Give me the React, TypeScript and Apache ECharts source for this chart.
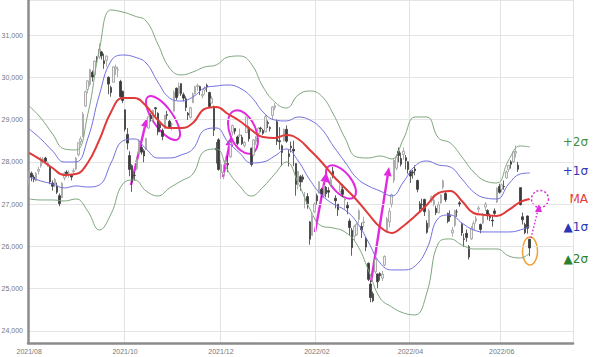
import React, { useEffect, useRef } from "react";
import * as echarts from "echarts";

// Tokyo market closures (weekdays) in the span of the chart
const holidays = [
  "2021-08-09", "2021-09-20", "2021-09-23", "2021-11-03", "2021-11-23", "2021-12-31",
  "2022-01-03", "2022-01-10", "2022-02-11", "2022-02-23", "2022-03-21", "2022-04-29",
  "2022-05-03", "2022-05-04", "2022-05-05", "2022-07-18",
];
const categoryCount = 233;

// daily candles: [open, close, low, high]
const candles: number[][] = [
  // 2021/08
  [27450, 27781, 27440, 27810], [27730, 27641, 27540, 27770], [27640, 27584, 27520, 27690], [27560, 27728, 27530, 27760],
  [27780, 27820, 27700, 27880], [27900, 28070, 27860, 28120], [28040, 28070, 27960, 28120], [28090, 28015, 27950, 28120],
  [27900, 27977, 27880, 28010], [27880, 27523, 27470, 27890], [27500, 27424, 27320, 27560], [27480, 27585, 27400, 27620],
  [27430, 27281, 27240, 27510], [27200, 27013, 26950, 27250], [27150, 27494, 27140, 27520], [27620, 27732, 27560, 27770],
  [27760, 27724, 27650, 27800], [27740, 27742, 27620, 27800], [27700, 27641, 27560, 27720], [27770, 27789, 27700, 27850],
  [27830, 28089, 27800, 28110],
  // 2021/09
  [28170, 28451, 28130, 28470], [28480, 28543, 28400, 28600], [28600, 29128, 28580, 29180], [29320, 29660, 29300, 29690],
  [29710, 29916, 29620, 29930], [29830, 30181, 29780, 30200], [30120, 30008, 29900, 30160], [30060, 30381, 30040, 30400],
  [30460, 30447, 30340, 30500], [30480, 30670, 30430, 30800], [30600, 30511, 30420, 30620], [30390, 30323, 30200, 30560],
  [30400, 30500, 30250, 30520], [30000, 29839, 29600, 30020], [29760, 29639, 29540, 29800], [29880, 30248, 29880, 30250],
  [30200, 30240, 30050, 30300], [30170, 30183, 30000, 30250], [29900, 29544, 29500, 29940], [29670, 29452, 29390, 29680],
  // 2021/10
  [29230, 28771, 28720, 29240], [28650, 28444, 28290, 28800], [28150, 27822, 27660, 28250], [27910, 27528, 27290, 27940],
  [27680, 27678, 27560, 27760], [27840, 28048, 27800, 28120], [28200, 28498, 28170, 28530], [28340, 28230, 28170, 28400],
  [28260, 28140, 27990, 28300], [28300, 28550, 28280, 28570], [28800, 29068, 28780, 29070], [29100, 29025, 28950, 29150],
  [29000, 29215, 28950, 29240], [29280, 29255, 29080, 29300], [29150, 28708, 28630, 29170], [28890, 28804, 28700, 28920],
  [28740, 28600, 28510, 28790], [28790, 29106, 28780, 29110], [29120, 29098, 29000, 29210], [28960, 28820, 28780, 28990],
  [28880, 28892, 28740, 28930],
  // 2021/11
  [29200, 29647, 29190, 29690], [29740, 29520, 29460, 29760], [29620, 29794, 29560, 29880], [29850, 29611, 29560, 29860],
  [29590, 29507, 29430, 29640], [29490, 29285, 29200, 29550], [29150, 29106, 28990, 29180], [29050, 29278, 29020, 29310],
  [29400, 29610, 29390, 29640], [29610, 29776, 29600, 29800], [29780, 29808, 29680, 29850], [29780, 29688, 29580, 29800],
  [29560, 29598, 29500, 29690], [29700, 29745, 29590, 29790], [29810, 29774, 29650, 29850], [29640, 29302, 29270, 29660],
  [29390, 29499, 29380, 29560], [29300, 28751, 28610, 29330], [28320, 28283, 27960, 28470], [28520, 27821, 27790, 28560],
  // 2021/12
  [27750, 27935, 27600, 28050], [27700, 27753, 27590, 27940], [28000, 28029, 27870, 28130], [27960, 27927, 27760, 28150],
  [28120, 28455, 28090, 28470], [28700, 28860, 28620, 28880], [28790, 28725, 28650, 28800], [28590, 28437, 28390, 28620],
  [28620, 28640, 28580, 28790], [28580, 28432, 28400, 28640], [28380, 28459, 28340, 28490], [28690, 29066, 28680, 29070],
  [28810, 28545, 28480, 28850], [28320, 27937, 27890, 28340], [28160, 28517, 28130, 28540], [28480, 28562, 28400, 28610],
  [28670, 28798, 28640, 28820], [28800, 28782, 28700, 28830], [28740, 28676, 28640, 28780], [28710, 29069, 28700, 29120],
  [28930, 28906, 28800, 28980], [28810, 28791, 28720, 28840],
  // 2022/01
  [29100, 29301, 29000, 29320], [29290, 29332, 29220, 29390], [28950, 28487, 28400, 29000], [28500, 28478, 28290, 28820],
  [28380, 28222, 27900, 28410], [28500, 28765, 28480, 28790], [28770, 28489, 28450, 28860], [28190, 28124, 27890, 28290],
  [28370, 28333, 28220, 28480], [28300, 28257, 27900, 28500], [27960, 27467, 27200, 27970], [27530, 27772, 27350, 27790],
  [27650, 27522, 27320, 27690], [27640, 27588, 27520, 27700], [27100, 27131, 26900, 27290], [27180, 27011, 26890, 27260],
  [26580, 26170, 26040, 26600], [26260, 26717, 26260, 26800], [26820, 27001, 26790, 27040],
  // 2022/02
  [27200, 27078, 26990, 27250], [27270, 27533, 27250, 27540], [27350, 27241, 27150, 27390], [27190, 27439, 27150, 27440],
  [27400, 27248, 27160, 27430], [27320, 27284, 27150, 27400], [27450, 27579, 27420, 27640], [27780, 27696, 27610, 27880],
  [27140, 27079, 26900, 27210], [27000, 26865, 26720, 27000], [27300, 27460, 27250, 27500], [27340, 27232, 27170, 27470],
  [27100, 27122, 26870, 27160], [26970, 26910, 26760, 27050], [26600, 26449, 26260, 26660], [26380, 25970, 25780, 26440],
  [26240, 26476, 26130, 26510], [26280, 26526, 26250, 26560],
  // 2022/03
  [26640, 26844, 26550, 26880], [26470, 26393, 26200, 26560], [26560, 26577, 26460, 26700], [26190, 25985, 25890, 26230],
  [25600, 25221, 25180, 25620], [25110, 24790, 24680, 25190], [24880, 24717, 24680, 24930], [25400, 25690, 25350, 25800],
  [25350, 25162, 25010, 25360], [25360, 25307, 25190, 25390], [25250, 25346, 25180, 25420], [25560, 25762, 25530, 25790],
  [26380, 26652, 26370, 26700], [26580, 26827, 26450, 26910], [27000, 27224, 26920, 27250], [27560, 28040, 27500, 28060],
  [27850, 28110, 27800, 28180], [28250, 28149, 27990, 28340], [28080, 27943, 27890, 28220], [28170, 28252, 28050, 28340],
  [28100, 28027, 27820, 28160], [28000, 27821, 27720, 28010],
  // 2022/04
  [27770, 27665, 27500, 27810], [27760, 27736, 27600, 27810], [27830, 27787, 27680, 27920], [27560, 27350, 27280, 27580],
  [27010, 26888, 26840, 27070], [26990, 26985, 26870, 27130], [27110, 26821, 26720, 27130], [26550, 26334, 26300, 26620],
  [26460, 26843, 26420, 26890], [27080, 27172, 27030, 27200], [27000, 27093, 26950, 27140], [26900, 26799, 26740, 26960],
  [26800, 26985, 26780, 27060], [27030, 27217, 27010, 27230], [27400, 27553, 27350, 27580], [27250, 27105, 27050, 27300],
  [26780, 26590, 26550, 26800], [26730, 26700, 26590, 26850], [26320, 26386, 26230, 26460], [26500, 26847, 26460, 26870],
  // 2022/05
  [26820, 26818, 26700, 26880], [27030, 27003, 26940, 27070], [26520, 26319, 26250, 26550], [26180, 26167, 25990, 26300],
  [26310, 26213, 26110, 26400], [25990, 25748, 25690, 26030], [26180, 26427, 26150, 26480], [26400, 26547, 26390, 26610],
  [26600, 26659, 26540, 26720], [26880, 26911, 26800, 26960], [26520, 26402, 26310, 26540], [26550, 26739, 26530, 26790],
  [26930, 27001, 26840, 27050], [26850, 26748, 26630, 26880], [26720, 26677, 26600, 26780], [26620, 26604, 26470, 26710],
  [26840, 26781, 26720, 26900], [27050, 27369, 27030, 27400], [27420, 27279, 27250, 27480],
  // 2022/06
  [27350, 27457, 27280, 27490], [27420, 27413, 27340, 27560], [27620, 27761, 27600, 27800], [27820, 27915, 27760, 27930],
  [28000, 27943, 27840, 28040], [28000, 28234, 27980, 28250], [28210, 28246, 28100, 28390], [27920, 27824, 27760, 28000],
  [27390, 26987, 26970, 27400], [26700, 26629, 26520, 26800], [26520, 26326, 26290, 26560], [26720, 26431, 26300, 26730],
  [26170, 25963, 25770, 26180],
];

// Bollinger band readings at these trading-day positions
const bandIndex = [
  0, 5, 10, 15, 20, 25, 30, 35, 40, 45, 50, 55, 60, 65, 70, 75, 80, 85, 90, 95, 100, 105,
  110, 115, 120, 125, 130, 135, 140, 145, 150, 155, 160, 165, 170, 175, 180, 185, 190, 195, 200, 205, 210, 214,
];
const maValues = [
  28210, 28045, 27855, 27690, 27714, 27974, 28518, 29180, 29511, 29511, 29322, 28990, 28801, 28801, 28920, 29251,
  29298, 29132, 28967, 28754, 28588, 28565, 28636, 28541, 28281, 27997, 27666, 27383, 27099, 26768, 26460, 26318,
  26484, 26720, 26981, 27264, 27312, 27075, 26791, 26744, 26720, 26862, 27052, 27122,
];
const plus1Values = [
  28778, 28541, 28257, 27997, 27997, 28541, 29582, 30386, 30527, 30480, 30338, 29889, 29511, 29440, 29534, 29747,
  29794, 29818, 29747, 29534, 29180, 28990, 28967, 29061, 28990, 28778, 28376, 27997, 27619, 27430, 27312, 27193,
  27524, 27903, 28021, 27926, 27879, 27595, 27288, 27146, 27122, 27477, 27714, 27737,
];
const minus1Values = [
  27643, 27548, 27477, 27383, 27430, 27406, 27453, 27974, 28494, 28541, 28305, 28092, 28092, 28163, 28305, 28754,
  28801, 28470, 28210, 27974, 27997, 28139, 28305, 28021, 27572, 27217, 27004, 26862, 26579, 26106, 25609, 25444,
  25444, 25538, 25940, 26673, 26744, 26555, 26389, 26342, 26342, 26342, 26389, 26484,
];
const plus2Values = [
  29322, 29038, 28659, 28305, 28281, 29109, 30646, 31592, 31544, 31450, 31331, 30788, 30220, 30055, 30125, 30244,
  30291, 30480, 30504, 30315, 29771, 29416, 29274, 29582, 29676, 29558, 29132, 28565, 28116, 28092, 28139, 28068,
  28541, 29061, 29061, 28565, 28447, 28116, 27761, 27548, 27501, 28045, 28376, 28352,
];
const minus2Values = [
  27122, 27099, 27099, 27075, 27122, 26839, 26389, 26768, 27477, 27572, 27312, 27193, 27383, 27548, 27714, 28257,
  28305, 27785, 27430, 27193, 27406, 27714, 27997, 27501, 26886, 26484, 26437, 26342, 26058, 25444, 24781, 24569,
  24427, 24380, 24900, 26082, 26177, 26035, 25940, 25940, 25940, 25775, 25727, 25846,
];

const yMin = 23716;
const yMax = 31828;

const sideLabels = [
  { text: "+2σ", color: "#3f8f3f", y: 142 },
  { text: "+1σ", color: "#3434b4", y: 171 },
  { text: "MA", color: "#e23a3a", y: 199 },
  { text: "▲1σ", color: "#2a35b8", y: 227 },
  { text: "▲2σ", color: "#2c7f2c", y: 259 },
];

const MAG = "#e12ae0";

function buildDates(): string[] {
  const out: string[] = [];
  const d = new Date(Date.UTC(2021, 7, 2));
  while (out.length < categoryCount) {
    const dow = d.getUTCDay();
    const s = d.toISOString().slice(0, 10);
    if (dow !== 0 && dow !== 6 && holidays.indexOf(s) < 0) out.push(s);
    d.setUTCDate(d.getUTCDate() + 1);
  }
  return out;
}

function arrow(x1: number, y1: number, x2: number, y2: number) {
  const dx = x2 - x1, dy = y2 - y1;
  const len = Math.hypot(dx, dy);
  const ux = dx / len, uy = dy / len;
  const hl = 9, hw = 4;
  const bx = x2 - ux * hl, by = y2 - uy * hl;
  return [
    { type: "line", shape: { x1, y1, x2: bx, y2: by }, style: { stroke: MAG, lineWidth: 2.4 } },
    {
      type: "polygon",
      shape: { points: [[x2, y2], [bx - uy * hw, by + ux * hw], [bx + uy * hw, by - ux * hw]] },
      style: { fill: MAG },
    },
  ];
}

function ellipse(cx: number, cy: number, rx: number, ry: number, rot: number, color: string, w: number) {
  return {
    type: "ellipse",
    x: cx,
    y: cy,
    rotation: rot,
    shape: { cx: 0, cy: 0, rx, ry },
    style: { fill: "none", stroke: color, lineWidth: w },
  };
}

export default function App() {
  const ref = useRef<HTMLDivElement>(null);
  useEffect(() => {
    if (!ref.current) return;
    document.body.style.margin = "0";
    const chart = echarts.init(ref.current, null, { renderer: "svg" });
    const dates = buildDates();
    const isMonthStart = (i: number) => i === 0 || dates[i].slice(5, 7) !== dates[i - 1].slice(5, 7);
    const isMark = (i: number) => isMonthStart(i) && Number(dates[i].slice(5, 7)) % 2 === 0;
    const band = (vals: number[]) => bandIndex.map((i, k) => [i, vals[k]]);
    const lineSeries = (name: string, vals: number[], color: string, width: number) => ({
      name,
      type: "line",
      data: band(vals),
      smooth: 0.45,
      symbol: "none",
      silent: true,
      lineStyle: { color, width },
      z: 3,
    });

    const graphics: any[] = [
      ...arrow(131, 185, 147, 118),
      ...arrow(223, 177, 231, 137),
      ...arrow(315, 232, 326, 173),
      ...arrow(371, 282, 389, 167),
      ellipse(163, 118, 26, 10, -0.96, MAG, 2),
      ellipse(243, 132, 23, 13, -1.17, MAG, 2),
      ellipse(341, 182, 20, 10, -0.87, MAG, 2),
      ellipse(530, 251, 7.5, 14, 0, "#f0a035", 1.5),
      {
        type: "circle",
        shape: { cx: 540, cy: 199, r: 8.5 },
        style: { fill: "none", stroke: MAG, lineWidth: 1.5, lineDash: [2, 2] },
      },
      {
        type: "line",
        shape: { x1: 531, y1: 238, x2: 537.5, y2: 212 },
        style: { stroke: MAG, lineWidth: 1.5, lineDash: [1.5, 2] },
      },
      {
        type: "polygon",
        shape: { points: [[539, 204], [535, 212], [542, 212]] },
        style: { fill: MAG },
      },
      ...sideLabels.map((l) => ({
        type: "text",
        x: 588,
        y: l.y,
        style: {
          text: l.text,
          fill: l.color,
          fontSize: 12,
          fontFamily: "DejaVu Sans",
          align: "right",
          verticalAlign: "middle",
        },
      })),
    ];

    chart.setOption({
      animation: false,
      grid: { left: 28, right: 27, top: 0, bottom: 14, containLabel: false, outerBoundsMode: "none" },
      xAxis: {
        type: "category",
        data: dates,
        boundaryGap: true,
        axisLine: { lineStyle: { color: "#8c8c8c", width: 2.5 } },
        axisTick: { show: false },
        axisLabel: {
          interval: (i: number) => isMark(i),
          formatter: (v: string) => v.slice(0, 4) + "/" + v.slice(5, 7),
          fontSize: 7,
          fontFamily: "Liberation Sans",
          color: "#777",
          margin: 5,
        },
        splitLine: {
          show: true,
          interval: (i: number) => i > 0 && isMark(i),
          lineStyle: { color: "#e2e2e2", width: 1 },
        },
      },
      yAxis: {
        type: "value",
        min: yMin,
        max: yMax,
        splitNumber: 8,
        axisLine: { show: true, lineStyle: { color: "#8c8c8c", width: 2.5 } },
        axisTick: { show: false },
        axisLabel: {
          showMinLabel: false,
          showMaxLabel: false,
          fontSize: 7,
          fontFamily: "Liberation Sans",
          color: "#777",
          margin: 5,
          formatter: (v: number) => v.toLocaleString("en-US"),
        },
        splitLine: { lineStyle: { color: "#e4e4e4", width: 1 } },
      },
      series: [
        {
          type: "candlestick",
          data: candles,
          barWidth: 2,
          silent: true,
          itemStyle: {
            color: "#f2f2f2",
            color0: "#3a3a3a",
            borderColor: "#9a9a9a",
            borderColor0: "#3a3a3a",
            borderWidth: 0.8,
          },
          z: 2,
        },
        lineSeries("+2σ", plus2Values, "#7fa67f", 1),
        lineSeries("-2σ", minus2Values, "#7fa67f", 1),
        lineSeries("+1σ", plus1Values, "#7070e0", 1),
        lineSeries("-1σ", minus1Values, "#7070e0", 1),
        lineSeries("MA", maValues, "#e03a3a", 2),
      ],
      graphic: graphics,
    });
    return () => chart.dispose();
  }, []);
  return <div ref={ref} style={{ width: 600, height: 357 }} />;
}
